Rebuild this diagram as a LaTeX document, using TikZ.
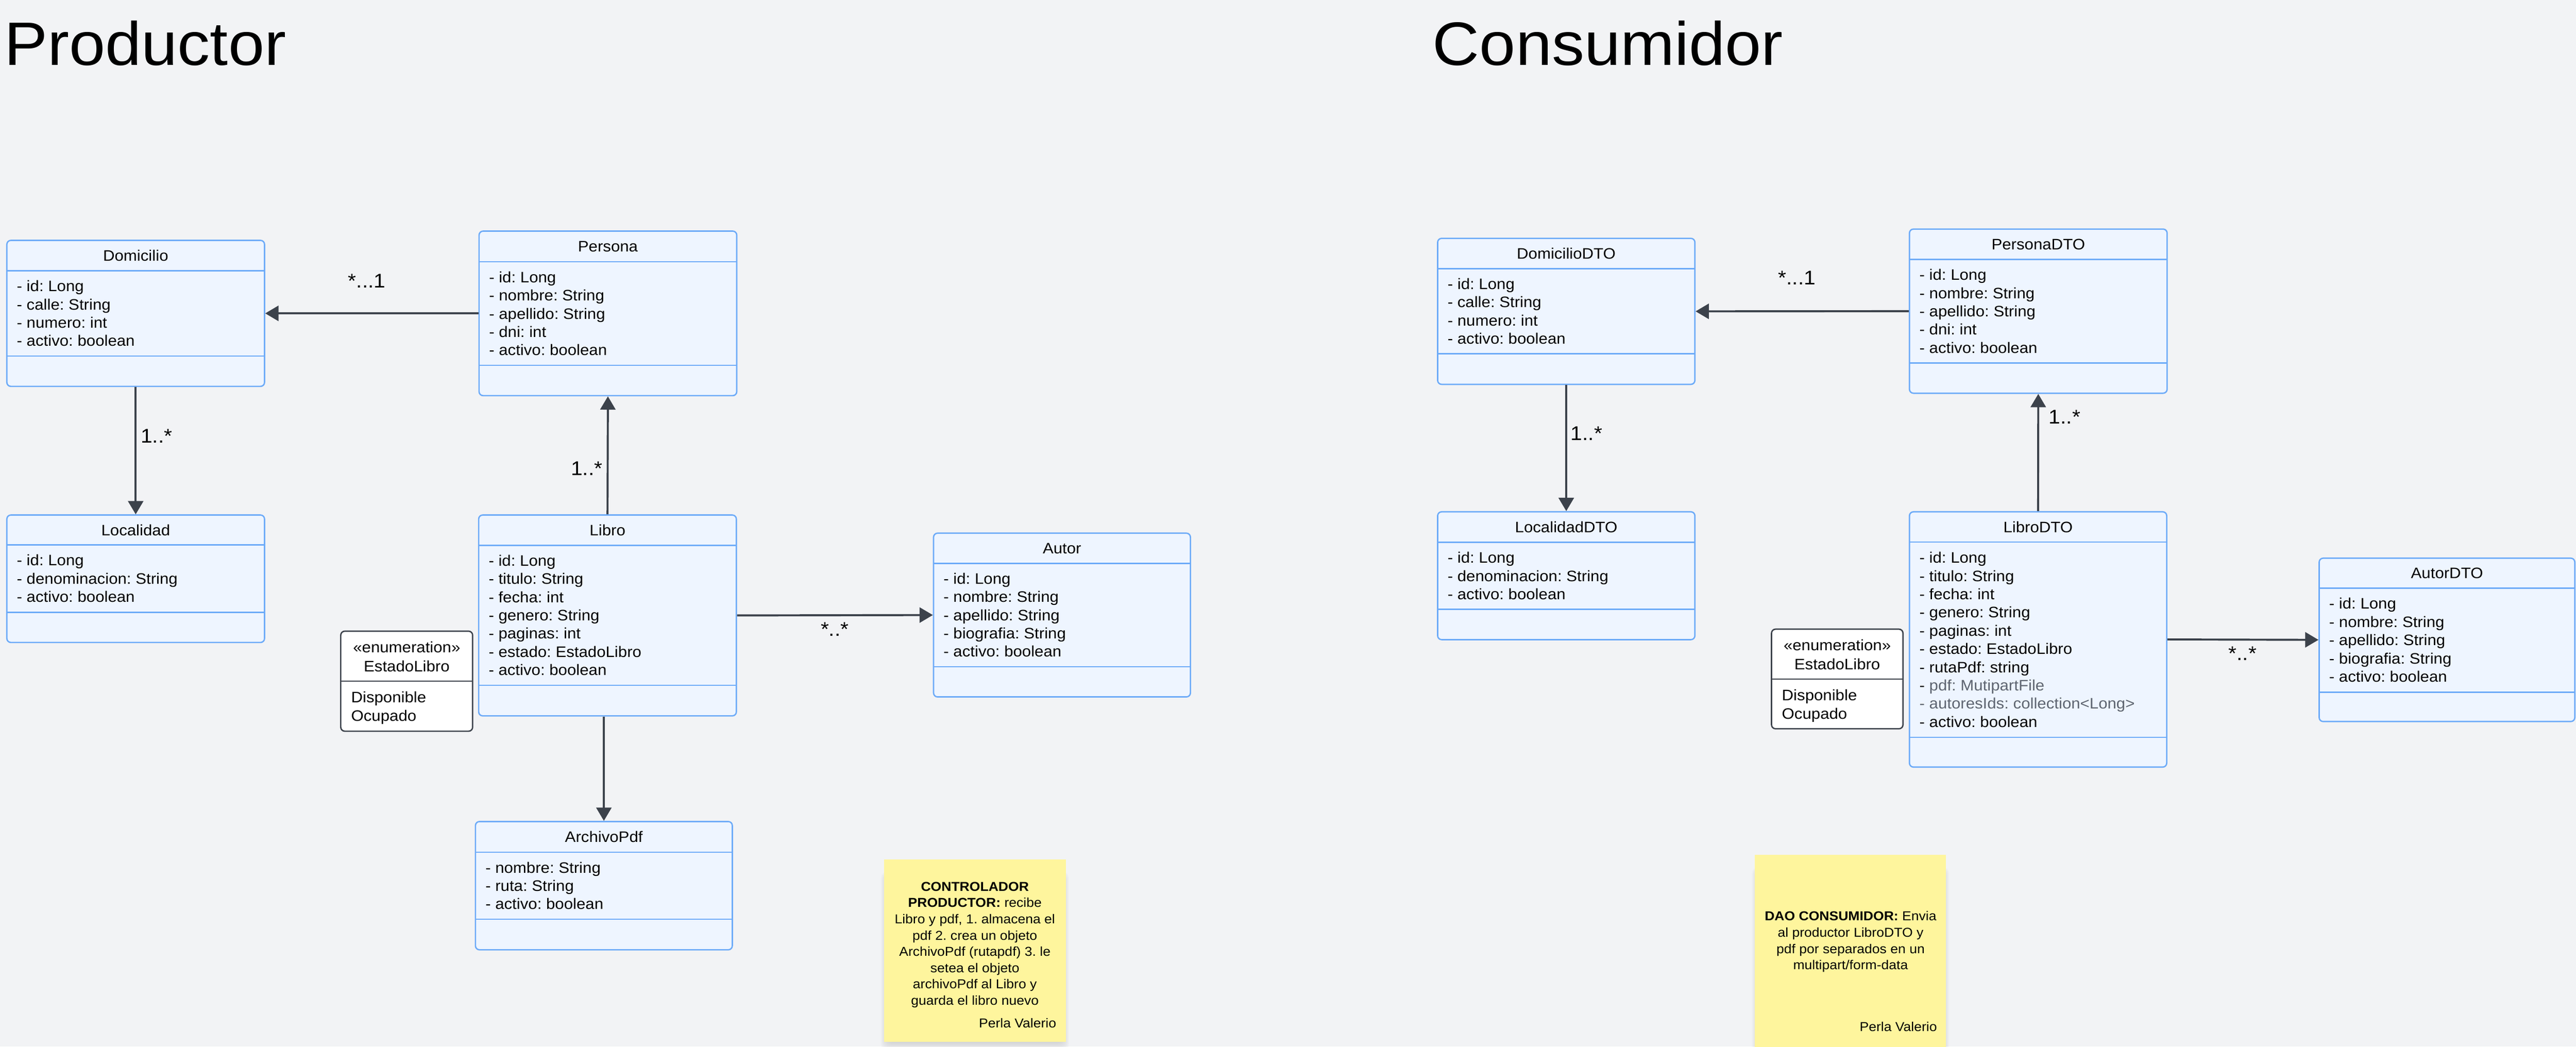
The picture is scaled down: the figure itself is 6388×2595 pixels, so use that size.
\documentclass[tikz,border=0pt]{standalone}
\usepackage{fontspec}
\setmainfont{Liberation Sans}[FakeStretch=1.06]
\frenchspacing
\usetikzlibrary{fit,arrows.meta}
\definecolor{bgcol}{HTML}{F2F3F5}
\definecolor{clsfill}{HTML}{EEF5FF}
\definecolor{clsborder}{HTML}{6DABF8}
\definecolor{arrowcol}{HTML}{3C424B}
\definecolor{enumborder}{HTML}{3D434C}
\definecolor{notefill}{HTML}{FEF59D}
\definecolor{txtgray}{HTML}{5E6570}
\tikzset{
  clsbox/.style={draw=clsborder, fill=clsfill, line width=0.85pt, rounded corners=2.5pt, inner sep=0pt},
  clsline/.style={draw=clsborder, line width=0.85pt},
  clsname/.style={inner sep=0pt, font={\fontsize{9.4pt}{11.3pt}\selectfont}},
  clsattr/.style={inner sep=0pt, anchor=west, align=left, font={\fontsize{9.4pt}{11.3pt}\selectfont}},
  enumbox/.style={draw=enumborder, fill=white, line width=0.85pt, rounded corners=2.5pt, inner sep=0pt},
  enumtext/.style={inner sep=0pt, font={\fontsize{9.4pt}{11.3pt}\selectfont}},
  assoc/.style={draw=arrowcol, line width=1.25pt, -{Triangle[length=8.25pt,width=9.4pt]}},
  multlabel/.style={inner sep=0pt, font={\fontsize{12.3pt}{15pt}\selectfont}},
  titletext/.style={inner sep=0pt, anchor=base west, font={\fontsize{38pt}{46pt}\selectfont}},
  notebox/.style={fill=notefill, inner sep=0pt},
  notetext/.style={inner sep=0pt, align=center, font={\fontsize{8pt}{10.1pt}\selectfont}},
  notesign/.style={inner sep=0pt, anchor=base east, font={\fontsize{8pt}{10.1pt}\selectfont}},
}
% #1 name, #2 x1, #3 y1, #4 x2, #5 y2, #6 first divider, #7 second divider, #8 title, #9 attributes
\newcommand\umlcls[9]{%
  \node[clsbox, fit={(#2,#3)(#4,#5)}] (#1) {};
  \draw[clsline] (#2,#6) -- (#4,#6) (#2,#7) -- (#4,#7);
  \node[clsname] (#1-name) at ({(#2+#4)/2},{(#3+#6)/2}) {#8};
  \node[clsattr] (#1-attr) at ({#2+24},{(#6+#7)/2}) {#9};
}
\newcommand\notesh[4]{%
  \foreach \i in {1,...,10}{
    \fill[black, opacity=0.01, rounded corners=4pt] ({#1+8-\i*1.6},{#2+40-\i}) rectangle ({#3-8+\i*1.6},{#4+\i*2.4});
  }
}
\begin{document}
\begin{tikzpicture}[x=0.25pt, y=-0.25pt]
\fill[bgcol] (0,0) rectangle (6388,2595);
\useasboundingbox (0,0) rectangle (6388,2595);

% titles
\node[titletext] (tprod) at (10,161) {Productor};
\node[titletext] (tcons) at (3552,161) {Consumidor};

% ---------- Productor ----------
\umlcls{domicilio}{17}{596}{656}{958}{671}{883}{Domicilio}
  {- id: Long\\- calle: String\\- numero: int\\- activo: boolean}
\umlcls{persona}{1188}{573}{1827}{981}{649}{906}{Persona}
  {- id: Long\\- nombre: String\\- apellido: String\\- dni: int\\- activo: boolean}
\umlcls{localidad}{17}{1277}{656}{1593}{1351}{1518}{Localidad}
  {- id: Long\\- denominacion: String\\- activo: boolean}
\umlcls{libro}{1187}{1277}{1826}{1775}{1352}{1699}{Libro}
  {- id: Long\\- titulo: String\\- fecha: int\\- genero: String\\- paginas: int\\- estado: EstadoLibro\\- activo: boolean}
\umlcls{autor}{2315}{1322}{2952}{1728}{1397}{1653}{Autor}
  {- id: Long\\- nombre: String\\- apellido: String\\- biografia: String\\- activo: boolean}
\umlcls{archivo}{1179}{2037}{1816}{2355}{2113}{2279}{ArchivoPdf}
  {- nombre: String\\- ruta: String\\- activo: boolean}

% enumeration
\node[enumbox, fit={(845,1565)(1172,1813)}] (enum1) {};
\draw[draw=enumborder, line width=0.85pt] (845,1689) -- (1172,1689);
\node[enumtext, anchor=base] (enum1-st) at (1008.5,1618) {«enumeration»};
\node[enumtext, anchor=base] (enum1-name) at (1008.5,1665) {EstadoLibro};
\node[enumtext, anchor=base west] (enum1-v1) at (870,1742) {Disponible};
\node[enumtext, anchor=base west] (enum1-v2) at (870,1788) {Ocupado};

% connectors
\draw[assoc] (persona.west) -- (domicilio.east);
\node[multlabel] (l1) at (910,697) {*...1};
\draw[assoc] (domicilio.south) -- (localidad.north);
\node[multlabel] (l2) at (388,1081) {1..*};
\draw[assoc] (libro.north) -- (persona.south);
\node[multlabel] (l3) at (1455,1161) {1..*};
\draw[assoc] (libro.east) -- (autor.west);
\node[multlabel] (l4) at (2070,1560) {*..*};
\draw[assoc] (archivo.north |- libro.south) -- (archivo.north);

% note 1
\notesh{2192}{2131}{2643}{2583}
\node[notebox, fit={(2192,2131)(2643,2583)}] (note1) {};
\node[notetext, anchor=north] (note1-text) at (2417.5,2186)
  {\textbf{CONTROLADOR}\\\textbf{PRODUCTOR:} recibe\\Libro y pdf, 1. almacena el\\pdf 2. crea un objeto\\ArchivoPdf (rutapdf) 3. le\\setea el objeto\\archivoPdf al Libro y\\guarda el libro nuevo};
\node[notesign] (note1-sign) at (2620,2548) {Perla Valerio};

% ---------- Consumidor ----------
\umlcls{domiciliodto}{3565}{591}{4203}{953}{666}{877}{DomicilioDTO}
  {- id: Long\\- calle: String\\- numero: int\\- activo: boolean}
\umlcls{personadto}{4735}{568}{5374}{975}{643}{900}{PersonaDTO}
  {- id: Long\\- nombre: String\\- apellido: String\\- dni: int\\- activo: boolean}
\umlcls{localidaddto}{3565}{1269}{4203}{1586}{1345}{1511}{LocalidadDTO}
  {- id: Long\\- denominacion: String\\- activo: boolean}
\umlcls{librodto}{4735}{1269}{5373}{1902}{1344}{1828}{LibroDTO}
  {- id: Long\\- titulo: String\\- fecha: int\\- genero: String\\- paginas: int\\- estado: EstadoLibro\\- rutaPdf: string\\- {\color{txtgray}pdf: MutipartFile}\\{\color{txtgray}- autoresIds: collection<Long>}\\- activo: boolean}
\umlcls{autordto}{5751}{1384}{6385}{1789}{1458}{1716}{AutorDTO}
  {- id: Long\\- nombre: String\\- apellido: String\\- biografia: String\\- activo: boolean}

\node[enumbox, fit={(4393,1560)(4719,1807)}] (enum2) {};
\draw[draw=enumborder, line width=0.85pt] (4393,1684) -- (4719,1684);
\node[enumtext, anchor=base] (enum2-st) at (4556,1613) {«enumeration»};
\node[enumtext, anchor=base] (enum2-name) at (4556,1660) {EstadoLibro};
\node[enumtext, anchor=base west] (enum2-v1) at (4418,1737) {Disponible};
\node[enumtext, anchor=base west] (enum2-v2) at (4418,1783) {Ocupado};

\draw[assoc] (personadto.west) -- (domiciliodto.east);
\node[multlabel] (l5) at (4456,689) {*...1};
\draw[assoc] (domiciliodto.south) -- (localidaddto.north);
\node[multlabel] (l6) at (3934,1075) {1..*};
\draw[assoc] (librodto.north) -- (personadto.south);
\node[multlabel] (l7) at (5120,1034) {1..*};
\draw[assoc] (librodto.east) -- (autordto.west);
\node[multlabel] (l8) at (5561,1620) {*..*};

% note 2
\notesh{4352}{2120}{4826}{2650}
\node[notebox, fit={(4352,2120)(4826,2650)}] (note2) {};
\node[notetext, anchor=north] (note2-text) at (4589,2259)
  {\textbf{DAO CONSUMIDOR:} Envia\\al productor LibroDTO y\\pdf por separados en un\\multipart/form-data};
\node[notesign] (note2-sign) at (4804,2557) {Perla Valerio};
\end{tikzpicture}
\end{document}
